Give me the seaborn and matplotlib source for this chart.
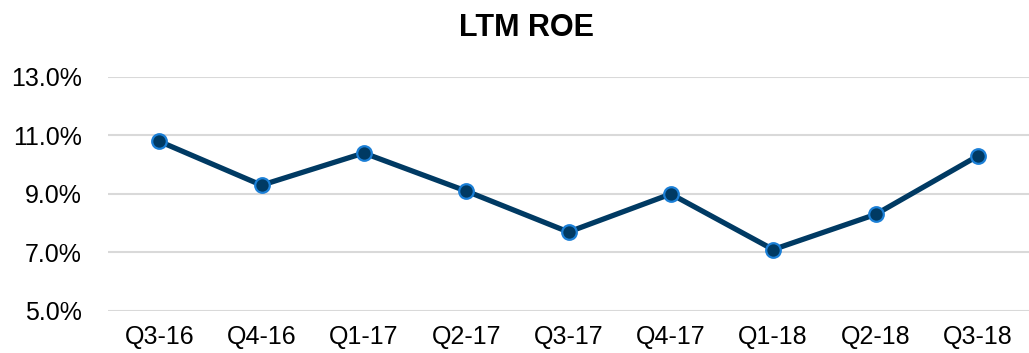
import matplotlib
matplotlib.use("Agg")
import matplotlib.pyplot as plt
import seaborn as sns
import pandas as pd
from matplotlib.ticker import FuncFormatter

quarters = ["Q3-16", "Q4-16", "Q1-17", "Q2-17", "Q3-17", "Q4-17", "Q1-18", "Q2-18", "Q3-18"]
roe = [10.8, 9.3, 10.4, 9.1, 7.7, 9.0, 7.1, 8.3, 10.3]
y_ticks = [5.0, 7.0, 9.0, 11.0, 13.0]

df = pd.DataFrame({"quarter": quarters, "roe": roe})

sns.set_theme(style="white")
plt.rcParams["font.family"] = ["Liberation Sans", "DejaVu Sans"]

fig = plt.figure(figsize=(10.29, 3.53), dpi=100)
ax = fig.add_axes([0.105, 0.119, 0.895, 0.663])

sns.lineplot(data=df, x="quarter", y="roe", ax=ax, sort=False,
             color="#003a63", linewidth=3.8, marker="o", markersize=10.5,
             markerfacecolor="#003a63", markeredgecolor="#1b7fd6",
             markeredgewidth=1.6)

ax.set_ylim(5.0, 13.0)
ax.set_yticks(y_ticks)
ax.yaxis.set_major_formatter(FuncFormatter(lambda v, _: f"{v:.1f}%"))
ax.set_xlim(-0.5, len(quarters) - 0.5)
ax.grid(axis="y", color="#d9d9d9", linewidth=1.5)
ax.set_axisbelow(True)
for s in ax.spines.values():
    s.set_visible(False)
ax.tick_params(axis="y", length=0, pad=19, labelsize=18, labelcolor="#000000")
ax.tick_params(axis="x", length=0, pad=10, labelsize=18, labelcolor="#000000")
ax.set_xlabel("")
ax.set_ylabel("")
fig.text(0.512, 0.921, "LTM ROE", ha="center", va="center",
         fontsize=22, fontweight="bold", color="#000000")

fig.savefig("out.png", dpi=100)
